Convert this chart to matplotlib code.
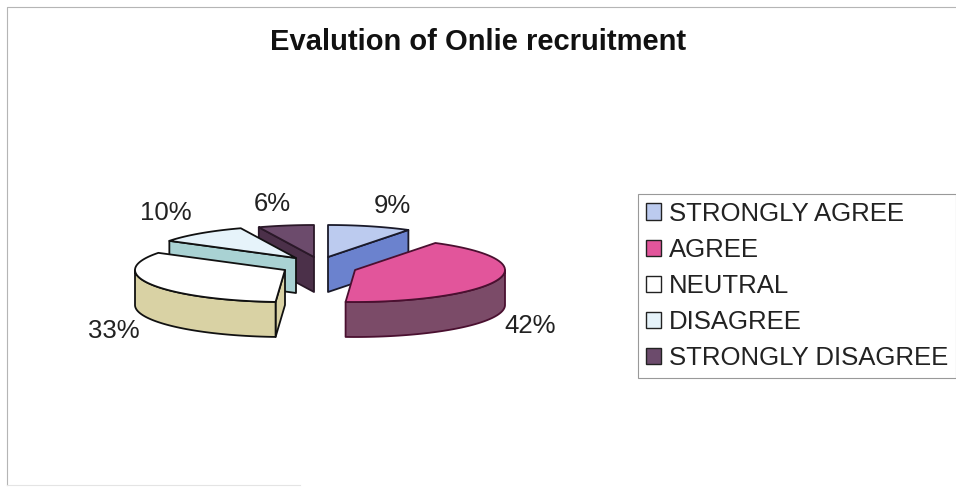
import numpy as np
import matplotlib
matplotlib.use("Agg")
import matplotlib.pyplot as plt
from matplotlib.patches import Polygon, Patch

plt.rcParams["font.family"] = ["Liberation Sans", "DejaVu Sans"]

title = "Evalution of Onlie recruitment"
categories = ["STRONGLY AGREE", "AGREE", "NEUTRAL", "DISAGREE", "STRONGLY DISAGREE"]
percents = [9, 42, 33, 10, 6]

top_colors = ["#BCCBEF", "#E2559B", "#FFFFFF", "#E6F3FA", "#6C4B6C"]
wall_colors = ["#6B82CE", "#7B4B68", "#D9D2A4", "#A9D2D3", "#4B3049"]
edge_colors = ["#1A1A2A", "#4A1030", "#111111", "#111111", "#2A1828"]
legend_colors = ["#BCCBEF", "#E2559B", "#FFFFFF", "#E6F3FA", "#6C4B6C"]

# pixel layout of the exploded pie
apex = [(328, 257), (355, 270), (285, 270), (296, 258), (314, 257)]
label_pos = [(392, 206), (530, 326), (114, 331), (166, 213), (272, 204)]
RX, RY, DEPTH = 150, 32, 35
draw_order = [4, 3, 2, 0, 1]


def rim(cx, cy, a, b, dy=0, n=60):
    t = np.radians(np.linspace(a, b, n))
    return np.column_stack([cx + RX * np.sin(t), cy - RY * np.cos(t) + dy])


def draw_slice(ax, i, a, b):
    cx, cy = apex[i]
    kw = dict(facecolor=wall_colors[i], edgecolor=edge_colors[i], lw=1.3, joinstyle="round")
    # radial walls that face the viewer
    for ang, vis in ((a, np.sin(np.radians(a)) < -1e-6), (b, np.sin(np.radians(b)) > 1e-6)):
        if vis:
            p = rim(cx, cy, ang, ang, n=1)[0]
            ax.add_patch(Polygon([(cx, cy), p, p + (0, DEPTH), (cx, cy + DEPTH)], **kw))
    # outer rim, front half only
    lo, hi = max(a, 90), min(b, 270)
    if hi > lo:
        ax.add_patch(Polygon(np.vstack([rim(cx, cy, lo, hi), rim(cx, cy, hi, lo, DEPTH)]), **kw))
    top = np.vstack([[(cx, cy)], rim(cx, cy, a, b)])
    ax.add_patch(Polygon(top, facecolor=top_colors[i], edgecolor=edge_colors[i], lw=1.3, joinstyle="round"))


fig = plt.figure(figsize=(9.56, 4.88), dpi=100)
ax = fig.add_axes([0, 0, 1, 1])
ax.set_xlim(0, 956)
ax.set_ylim(488, 0)
ax.axis("off")

# faint scanned chart frame
ax.plot([7, 7, 956], [485, 7, 7], color="#B5B5B5", lw=0.8)
ax.plot([7, 300], [485, 485], color="#E4E4E4", lw=0.8)

edges = np.concatenate([[0], np.cumsum(percents)]) * 3.6
for i in draw_order:
    draw_slice(ax, i, edges[i], edges[i + 1])

for i, pct in enumerate(percents):
    ax.text(label_pos[i][0], label_pos[i][1], f"{pct}%", fontsize=18.5, color="#222222",
            ha="center", va="center")

ax.text(478, 42, title, fontsize=21, fontweight="bold", color="#111111", ha="center", va="center")

handles = [Patch(facecolor=c, edgecolor="#222222", lw=1.0) for c in legend_colors]
leg = ax.legend(handles, categories, loc="upper left", bbox_to_anchor=(638 / 956, 1 - 194 / 488),
                fontsize=18.5, frameon=True, fancybox=False, edgecolor="#999999", framealpha=1,
                handlelength=0.6, handleheight=0.6, handletextpad=0.3, labelspacing=0.47,
                borderpad=0.3, borderaxespad=0, labelcolor="#222222")
leg.get_frame().set_linewidth(0.8)

fig.savefig("out.png", dpi=100)
